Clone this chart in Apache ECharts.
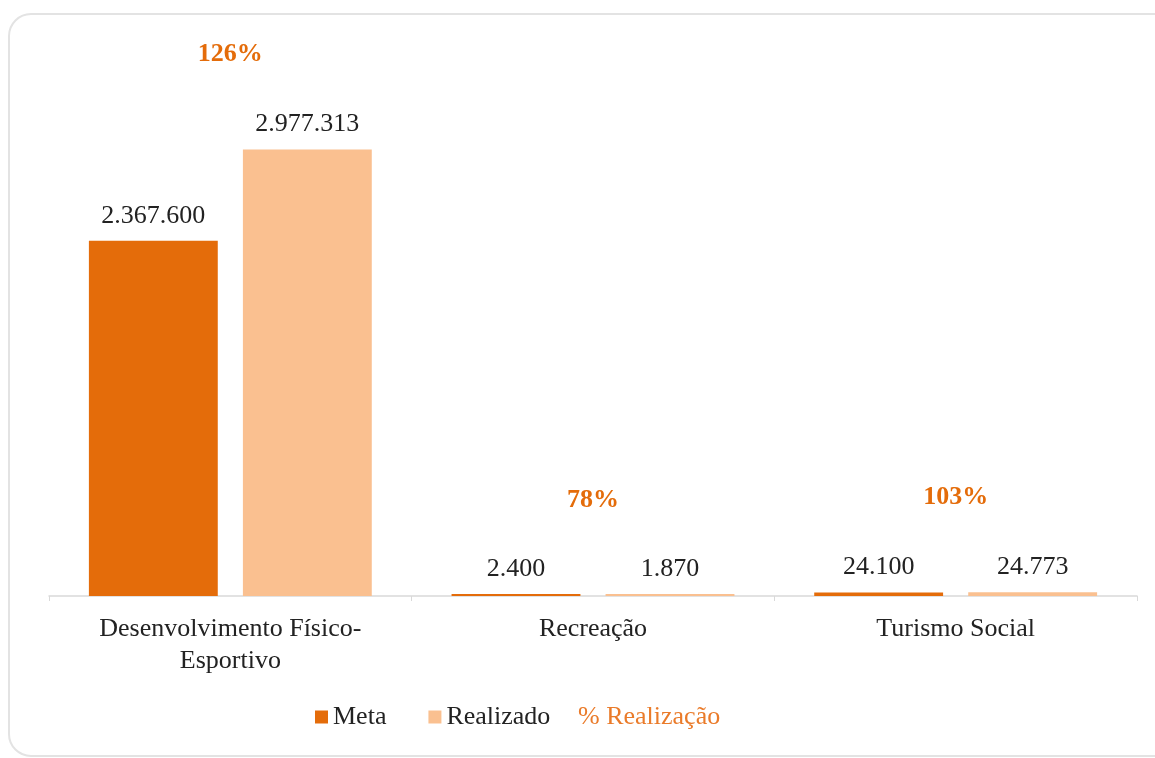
<!DOCTYPE html>
<html>
<head>
<meta charset="utf-8">
<script src="https://cdn.jsdelivr.net/npm/echarts@6/dist/echarts.min.js"></script>
<style>
  html, body { margin: 0; padding: 0; background: #fff; }
  #chart { width: 1155px; height: 758px; }
</style>
</head>
<body>
<div id="chart"></div>
<script>
// dados
const categories = ['Desenvolvimento Físico-\nEsportivo', 'Recreação', 'Turismo Social'];
const meta = [2367600, 2400, 24100];
const realizado = [2977313, 1870, 24773];
const pctRealizacao = [126, 78, 103];

// formata número no padrão brasileiro (2.977.313)
function fmt(v) {
  return String(v).replace(/\B(?=(\d{3})+(?!\d))/g, '.');
}

const serif = '"Liberation Serif", "Times New Roman", serif';
const labelTopo = meta.map((m, i) => Math.max(m, realizado[i]));

const chart = echarts.init(document.getElementById('chart'));
chart.setOption({
  animation: false,
  textStyle: { fontFamily: serif },
  graphic: [{
    type: 'rect',
    shape: { x: 9, y: 14, width: 1170, height: 742, r: 22 },
    style: { fill: 'none', stroke: '#e3e3e3', lineWidth: 2 },
    silent: true
  }],
  grid: { left: 49, right: 18, top: 56, bottom: 162 },
  legend: [{
    left: 310, top: 699,
    itemWidth: 13, itemHeight: 13, itemGap: 42,
    icon: 'rect',
    textStyle: { fontFamily: serif, fontSize: 26, color: '#222' },
    data: ['Meta', 'Realizado']
  }, {
    left: 555, top: 699,
    itemWidth: 13, itemHeight: 13,
    icon: 'rect',
    textStyle: { fontFamily: serif, fontSize: 26, color: '#EA7B2A' },
    data: ['% Realização']
  }],
  xAxis: {
    type: 'category',
    data: categories,
    axisLine: { lineStyle: { color: '#d9d9d9', width: 1.5 } },
    axisTick: { show: true, length: 5, lineStyle: { color: '#d9d9d9' } },
    axisLabel: {
      fontFamily: serif, fontSize: 26, color: '#222',
      lineHeight: 32, margin: 17
    }
  },
  yAxis: {
    type: 'value',
    min: 0, max: 3600000,
    show: false,
    splitLine: { show: false }
  },
  series: [{
    name: 'Meta',
    type: 'bar',
    data: meta,
    barGap: '19.5%',
    barCategoryGap: '22%',
    barMinHeight: 2,
    itemStyle: { color: '#E46C0A' },
    label: {
      show: true, position: 'top', distance: 12,
      fontFamily: serif, fontSize: 26, color: '#222',
      formatter: p => fmt(p.value)
    }
  }, {
    name: 'Realizado',
    type: 'bar',
    data: realizado,
    barMinHeight: 2,
    itemStyle: { color: '#FAC090' },
    label: {
      show: true, position: 'top', distance: 12,
      fontFamily: serif, fontSize: 26, color: '#222',
      formatter: p => fmt(p.value)
    }
  }, {
    name: '% Realização',
    type: 'scatter',
    data: labelTopo,
    symbolSize: 1,
    itemStyle: { color: 'transparent', opacity: 1 },
    label: {
      show: true, position: 'top', distance: 82, opacity: 1,
      fontFamily: serif, fontSize: 26, fontWeight: 'bold', color: '#E46C0A',
      formatter: p => pctRealizacao[p.dataIndex] + '%'
    }
  }]
});
</script>
</body>
</html>
